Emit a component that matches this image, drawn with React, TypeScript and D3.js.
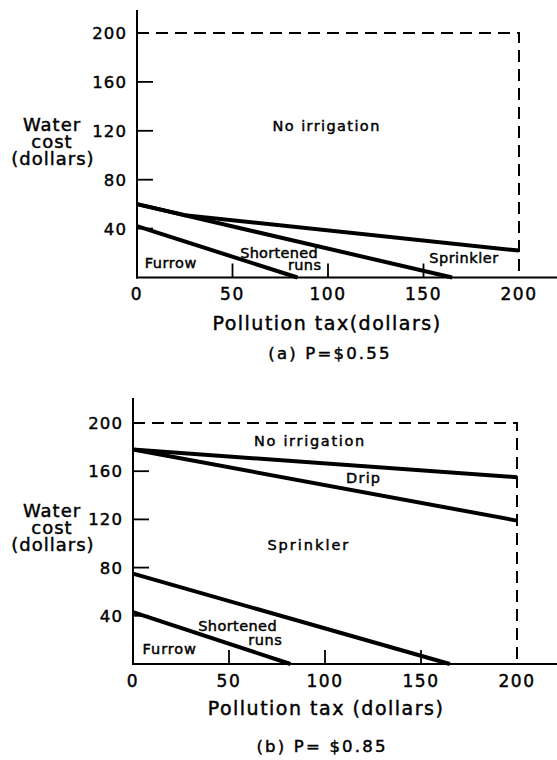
import React from "react";
import * as d3 from "d3";

// ---------- data ----------
const xTickValues = [0, 50, 100, 150, 200];
const xInnerTicks = [50, 100, 150];
const yTickValues = [40, 80, 120, 160, 200];
const yInnerTicks = [40, 80, 120, 160];

// Panel (a): P = $0.55  — boundary lines [x, waterCost]
const aSprinklerTop = [[0, 60], [25, 51], [200, 22]];
const aShortenedTop = [[0, 60], [165, 0]];
const aFurrowTop = [[0, 42], [84, 0]];
const aLabels = [
  { text: "No irrigation", x: 71, y: 120, ls: 1.4 },
  { text: "Sprinkler", x: 153, y: 12, ls: 0.5 },
  { text: "Shortened", x: 54, y: 16, ls: 0.3 },
  { text: "runs", x: 79, y: 6.5, ls: 0.4 },
  { text: "Furrow", x: 4, y: 8, ls: 0.6 },
];

// Panel (b): P = $0.85
const bNoIrrBottom = [[0, 178], [200, 155]];
const bDripBottom = [[0, 178], [200, 119]];
const bSprinklerBottom = [[0, 75], [165, 0]];
const bFurrowTop = [[0, 43], [82, 0]];
const bLabels = [
  { text: "No irrigation", x: 63, y: 181, ls: 1.7 },
  { text: "Drip", x: 111, y: 150, ls: 1.2 },
  { text: "Sprinkler", x: 70, y: 95, ls: 2 },
  { text: "Shortened", x: 34, y: 27, ls: 0.4 },
  { text: "runs", x: 60, y: 16, ls: 0.6 },
  { text: "Furrow", x: 5, y: 8, ls: 0.9 },
];

const FONT = "'DejaVu Sans', sans-serif";

type Label = { text: string; x: number; y: number; ls: number };
type Panel = {
  x0: number; xPerUnit: number; y0: number; y200: number;
  yTop: number; lines: number[][][]; labels: Label[];
  xTitle: string; xTitleY: number; caption: string; captionY: number; captionX: number;
  yTitleY: number; tickLabelY: number; xTitleX: number;
};

const panels: Panel[] = [
  {
    x0: 137, xPerUnit: 1.91, y0: 277.5, y200: 33, yTop: 10,
    lines: [aSprinklerTop, aShortenedTop, aFurrowTop], labels: aLabels,
    xTitle: "Pollution tax(dollars)", xTitleY: 330, xTitleX: 327,
    caption: "(a) P=$0.55", captionY: 359, captionX: 330,
    yTitleY: 131, tickLabelY: 299,
  },
  {
    x0: 133, xPerUnit: 1.92, y0: 664, y200: 423, yTop: 398,
    lines: [bNoIrrBottom, bDripBottom, bSprinklerBottom, bFurrowTop], labels: bLabels,
    xTitle: "Pollution tax (dollars)", xTitleY: 715, xTitleX: 326,
    caption: "(b) P= $0.85", captionY: 752, captionX: 322,
    yTitleY: 517, tickLabelY: 686,
  },
];

function PanelView({ p }: { p: Panel }) {
  const x = d3.scaleLinear().domain([0, 200]).range([p.x0, p.x0 + 200 * p.xPerUnit]);
  const y = d3.scaleLinear().domain([0, 200]).range([p.y0, p.y200]);
  const line = d3.line<number[]>().x((d) => x(d[0])).y((d) => y(d[1]));
  const dash = "12 7";
  const heavy = { stroke: "#000", strokeWidth: 0.45 };
  return (
    <g fontFamily={FONT} fill="#000">
      {/* axes */}
      <line x1={x(0)} x2={x(0)} y1={p.yTop} y2={y(0) + 1} stroke="#000" strokeWidth={2} />
      <line x1={x(0) - 1} x2={557} y1={y(0)} y2={y(0)} stroke="#000" strokeWidth={2} />
      {/* dashed box */}
      <path d={`M${x(0)},${y(200)}H${x(200)}V${y(0)}`} fill="none" stroke="#000" strokeWidth={2} strokeDasharray={dash} />
      {/* ticks */}
      {xInnerTicks.map((t) => (
        <line key={"xt" + t} x1={x(t)} x2={x(t)} y1={y(0)} y2={y(0) - 14} stroke="#000" strokeWidth={1.8} />
      ))}
      {yInnerTicks.map((t) => (
        <line key={"yt" + t} x1={x(0)} x2={x(0) + 16} y1={y(t)} y2={y(t)} stroke="#000" strokeWidth={1.8} />
      ))}
      {xTickValues.map((t) => (
        <text key={"xl" + t} x={x(t)} y={p.tickLabelY + 1} textAnchor="middle" fontSize={17} letterSpacing={1.6} {...heavy}>{t}</text>
      ))}
      {yTickValues.map((t) => (
        <text key={"yl" + t} x={x(0) - 10} y={y(t) + 6} textAnchor="end" fontSize={16.5} letterSpacing={1.1} {...heavy}>{t}</text>
      ))}
      {/* boundary lines */}
      {p.lines.map((l, i) => (
        <path key={"l" + i} d={line(l) || ""} fill="none" stroke="#000" strokeWidth={4} strokeLinecap="butt" strokeLinejoin="round" />
      ))}
      {/* region labels */}
      {p.labels.map((lb, i) => (
        <text key={"lb" + i} x={x(lb.x)} y={y(lb.y)} fontSize={14.5} letterSpacing={lb.ls} {...heavy}>{lb.text}</text>
      ))}
      {/* y title */}
      <text x={52} y={p.yTitleY} textAnchor="middle" fontSize={18} letterSpacing={1} {...heavy}>
        <tspan x={52}>Water</tspan>
        <tspan x={52} dy={17}>cost</tspan>
        <tspan x={53} dy={17}>(dollars)</tspan>
      </text>
      <text x={p.xTitleX} y={p.xTitleY} textAnchor="middle" fontSize={19} letterSpacing={1.5} {...heavy}>{p.xTitle}</text>
      <text x={p.captionX} y={p.captionY} textAnchor="middle" fontSize={16.5} letterSpacing={2.2} {...heavy}>{p.caption}</text>
    </g>
  );
}

export default function App() {
  return (
    <svg width={557} height={760} viewBox="0 0 557 760" style={{ position: "absolute", left: 0, top: 0, background: "#fff" }}>
      <rect width={557} height={760} fill="#fff" />
      {panels.map((p, i) => <PanelView key={i} p={p} />)}
    </svg>
  );
}
